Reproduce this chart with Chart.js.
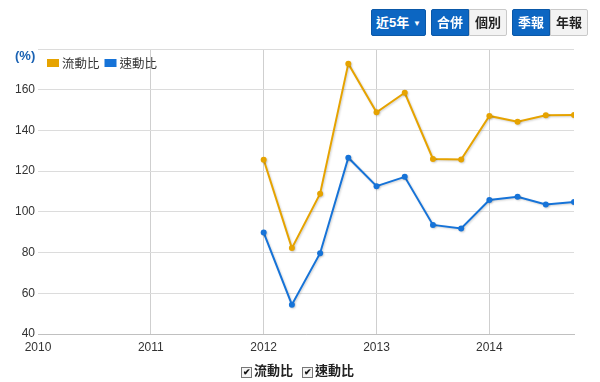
<!DOCTYPE html>
<html><head><meta charset="utf-8">
<script src="https://cdn.jsdelivr.net/npm/chart.js@4"></script>
<style>
html,body{margin:0;padding:0;background:#fff;}
body{width:600px;height:382px;position:relative;overflow:hidden;font-family:"Liberation Sans",Arial,"Noto Sans CJK TC",sans-serif;}
#wrap{position:absolute;left:0;top:0;width:600px;height:382px;}
.btn{position:absolute;top:9px;height:27px;line-height:25px;font-size:13px;font-weight:bold;box-sizing:border-box;text-align:center;}
.on{background:#0c66c2;color:#fff;border:1px solid #0a58a8;}
.off{background:#f3f3f3;color:#222;border:1px solid #c9c9c9;}
#unit{position:absolute;left:15px;top:48px;font-size:13px;font-weight:bold;color:#1a62b3;}
.chk{position:absolute;top:360px;font-size:13px;font-weight:bold;color:#222;}
.box{display:inline-block;width:9px;height:9px;border:1px solid #777;background:#f4f4f4;vertical-align:0px;margin-right:2px;font-size:9px;line-height:9px;text-align:center;color:#111;}
</style></head>
<body>
<div id="wrap"><canvas id="c" width="600" height="382"></canvas></div>
<div class="btn on" style="left:371px;width:55px;border-radius:2px;">近5年 <span style="font-size:8px;vertical-align:1px;">▼</span></div>
<div class="btn on" style="left:431px;width:38px;border-radius:2px 0 0 2px;">合併</div>
<div class="btn off" style="left:469px;width:38px;border-radius:0 2px 2px 0;">個別</div>
<div class="btn on" style="left:512px;width:38px;border-radius:2px 0 0 2px;">季報</div>
<div class="btn off" style="left:550px;width:38px;border-radius:0 2px 2px 0;">年報</div>
<div id="unit">(%)</div>
<div class="chk" style="left:241px;"><span class="box">✔</span>流動比</div>
<div class="chk" style="left:302px;"><span class="box">✔</span>速動比</div>
<script>
const periods = [2012, 2012.25, 2012.5, 2012.75, 2013, 2013.25, 2013.5, 2013.75, 2014, 2014.25, 2014.5, 2014.75];
const currentRatio = [125.6, 82.2, 108.9, 172.8, 148.9, 158.5, 126.0, 125.7, 147.1, 144.3, 147.4, 147.6];
const quickRatio = [89.8, 54.4, 79.7, 126.6, 112.6, 117.2, 93.6, 91.8, 105.8, 107.4, 103.6, 104.8];
const seriesNames = ['流動比', '速動比'];
const yearTicks = [2010, 2011, 2012, 2013, 2014];

const FONT = '"Liberation Sans", Arial, "Noto Sans CJK TC", sans-serif';
const ORANGE = '#e6a300';
const BLUE = '#1673d8';

const shadowPlugin = {
  id: 'shadow',
  beforeDatasetDraw(chart) {
    const ctx = chart.ctx; ctx.save();
    ctx.shadowColor = 'rgba(0,0,0,0.18)'; ctx.shadowOffsetX = 1; ctx.shadowOffsetY = 1; ctx.shadowBlur = 2;
  },
  afterDatasetDraw(chart) { chart.ctx.restore(); }
};

// legend drawn inside the plot area, top-left
const innerLegend = {
  id: 'innerLegend',
  afterDraw(chart) {
    const ctx = chart.ctx, a = chart.chartArea;
    ctx.save();
    ctx.font = '12.5px ' + FONT;
    ctx.textBaseline = 'middle';
    let x = a.left + 9;
    const y = a.top + 10;
    chart.data.datasets.forEach(ds => {
      ctx.fillStyle = ds.borderColor;
      ctx.fillRect(x, y, 12, 8);
      ctx.fillStyle = '#333';
      ctx.fillText(ds.label, x + 15, y + 5.5);
      x += 15 + ctx.measureText(ds.label).width + 5;
    });
    ctx.restore();
  }
};

const mk = (arr) => periods.map((p, i) => ({x: p, y: arr[i]}));

new Chart(document.getElementById('c'), {
  type: 'line',
  data: {
    datasets: [
      {label: seriesNames[0], data: mk(currentRatio), borderColor: ORANGE, backgroundColor: ORANGE, borderWidth: 2, pointRadius: 3, pointBackgroundColor: ORANGE, pointBorderWidth: 0, tension: 0},
      {label: seriesNames[1], data: mk(quickRatio), borderColor: BLUE, backgroundColor: BLUE, borderWidth: 2, pointRadius: 3, pointBackgroundColor: BLUE, pointBorderWidth: 0, tension: 0}
    ]
  },
  options: {
    responsive: false, animation: false,
    layout: {padding: {top: 49, right: 26, left: 0, bottom: 0}},
    plugins: {
      tooltip: {enabled: false},
      legend: {display: false}
    },
    scales: {
      x: {
        type: 'linear', min: 2010, max: 2014.75,
        afterBuildTicks(s) { s.ticks = yearTicks.map(v => ({value: v})); },
        afterFit(s) { s.height = 48; },
        ticks: {includeBounds: false, padding: 6, color: '#333', font: {family: FONT, size: 12}, callback: v => String(v), maxRotation: 0},
        grid: {drawTicks: false, color: ctx => ctx.tick && ctx.tick.value === 2010 ? 'rgba(0,0,0,0)' : '#cfcfcf', lineWidth: 1},
        border: {display: true, color: '#c0c0c0'}
      },
      y: {
        min: 40, max: 180,
        afterFit(s) { s.width = 38; },
        ticks: {stepSize: 20, padding: 3, color: '#333', font: {family: FONT, size: 12}, callback: v => v === 180 ? '' : String(v)},
        grid: {drawTicks: false, color: '#dcdcdc', lineWidth: 1},
        border: {display: false}
      }
    }
  },
  plugins: [shadowPlugin, innerLegend]
});
</script>
</body></html>
